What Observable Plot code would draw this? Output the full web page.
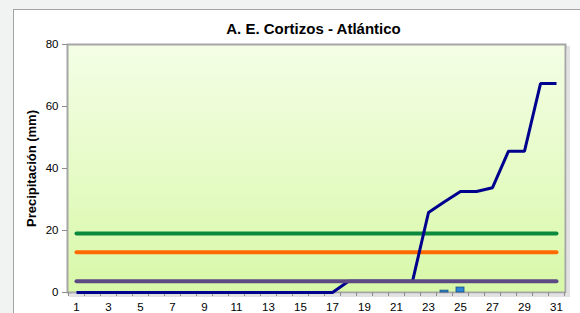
<!DOCTYPE html>
<html>
<head>
<meta charset="utf-8">
<script src="https://cdn.jsdelivr.net/npm/d3@7"></script>
<script src="https://cdn.jsdelivr.net/npm/@observablehq/plot@0.6"></script>
<style>
  html, body { margin: 0; padding: 0; background: #f1f3f3; }
  #wrap { position: relative; width: 580px; height: 313px; overflow: hidden; background: #f1f3f3; }
  #box { position: absolute; left: 13px; top: 9px; width: 620px; height: 340px; background: #fff; border: 1.5px solid #a3a3a3; }
  #chart { position: absolute; left: 0; top: 0; }
</style>
</head>
<body>
<div id="wrap"><div id="box"></div><div id="chart"></div></div>
<script>
const title = "A. E. Cortizos - Atlántico";
const yLabel = "Precipitación (mm)";
const days = d3.range(1, 32);
const xTickLabels = [1, 3, 5, 7, 9, 11, 13, 15, 17, 19, 21, 23, 25, 27, 29, 31];
const yTicks = [0, 20, 40, 60, 80];
// cumulative precipitation (blue line)
const acumulado = [0,0,0,0,0,0,0,0,0,0,0,0,0,0,0,0,0,3.6,3.6,3.6,3.6,3.6,25.8,29.3,32.6,32.6,33.8,45.6,45.6,67.4,67.4];
// daily precipitation (bars)
const diaria = [0,0,0,0,0,0,0,0,0,0,0,0,0,0,0,0,0,0,0,0,0,0,0,0.6,1.6,0,0,0,0,0,0];
const refVerde = 19;
const refNaranja = 13;
const refMorado = 3.6;

const rows = days.map((d, i) => ({day: d, acum: acumulado[i], diaria: diaria[i], verde: refVerde, naranja: refNaranja, morado: refMorado}));

const W = 580, H = 313, mL = 67, mR = 15, mT = 44, mB = 21;
const bw = (W - mL - mR) / days.length;

const plot = Plot.plot({
  width: W, height: H,
  marginLeft: mL, marginRight: mR, marginTop: mT, marginBottom: mB,
  style: {background: "transparent", fontFamily: "'Liberation Sans', Arial, sans-serif", fontSize: "11px", color: "#000", overflow: "visible"},
  x: {type: "band", domain: days, padding: 0, label: null},
  y: {domain: [0, 80], label: null},
  marks: [
    Plot.frame({stroke: "#e2e2e2", strokeWidth: 3, dx: 3, dy: 3}),
    Plot.frame({fill: "url(#bg)", stroke: "#a6a6a6", strokeWidth: 2}),
    Plot.axisY({ticks: yTicks, tickSize: 5, tickPadding: 4, stroke: "#8c8c8c", fill: "#000", fontSize: 11.5, label: null}),
    Plot.axisY({ticks: [], label: yLabel, labelAnchor: "center", labelOffset: 41, labelArrow: "none", fontWeight: "bold", fontSize: 13, fill: "#000"}),
    Plot.axisX({ticks: days, tickSize: 4, tickFormat: () => "", stroke: "#8c8c8c", dx: bw / 2, label: null}),
    Plot.axisX({ticks: [1], tickSize: 4, tickFormat: () => "", stroke: "#8c8c8c", dx: -bw / 2, label: null}),
    Plot.axisX({ticks: xTickLabels, tickSize: 0, tickPadding: 10, fill: "#000", fontSize: 11.5, label: null}),
    Plot.barY(rows, {x: "day", y: "diaria", fill: "#2a86d6", stroke: "#1b4f86", strokeWidth: 0.8, insetLeft: 4, insetRight: 4}),
    Plot.line(rows, {x: "day", y: "verde", stroke: "#0b8a3e", strokeWidth: 4, strokeLinecap: "round"}),
    Plot.line(rows, {x: "day", y: "naranja", stroke: "#ff6a00", strokeWidth: 4, strokeLinecap: "round"}),
    Plot.line(rows, {x: "day", y: "acum", stroke: "#00008f", strokeWidth: 3, strokeLinejoin: "miter", strokeLinecap: "butt"}),
    Plot.line(rows, {x: "day", y: "morado", stroke: "#5d4a84", strokeWidth: 4, strokeLinecap: "round"}),
    Plot.text([title], {frameAnchor: "top", dx: -3, dy: -11, lineAnchor: "bottom", fontWeight: "bold", fontSize: 15, fill: "#000"})
  ]
});

const svg = d3.select(plot);
const defs = svg.insert("defs", ":first-child");
const g = defs.append("linearGradient").attr("id", "bg").attr("x1", 0).attr("y1", 0).attr("x2", 0).attr("y2", 1);
g.append("stop").attr("offset", "0%").attr("stop-color", "#f4fee6");
g.append("stop").attr("offset", "100%").attr("stop-color", "#d8f8a8");

document.getElementById("chart").appendChild(plot);
</script>
</body>
</html>
